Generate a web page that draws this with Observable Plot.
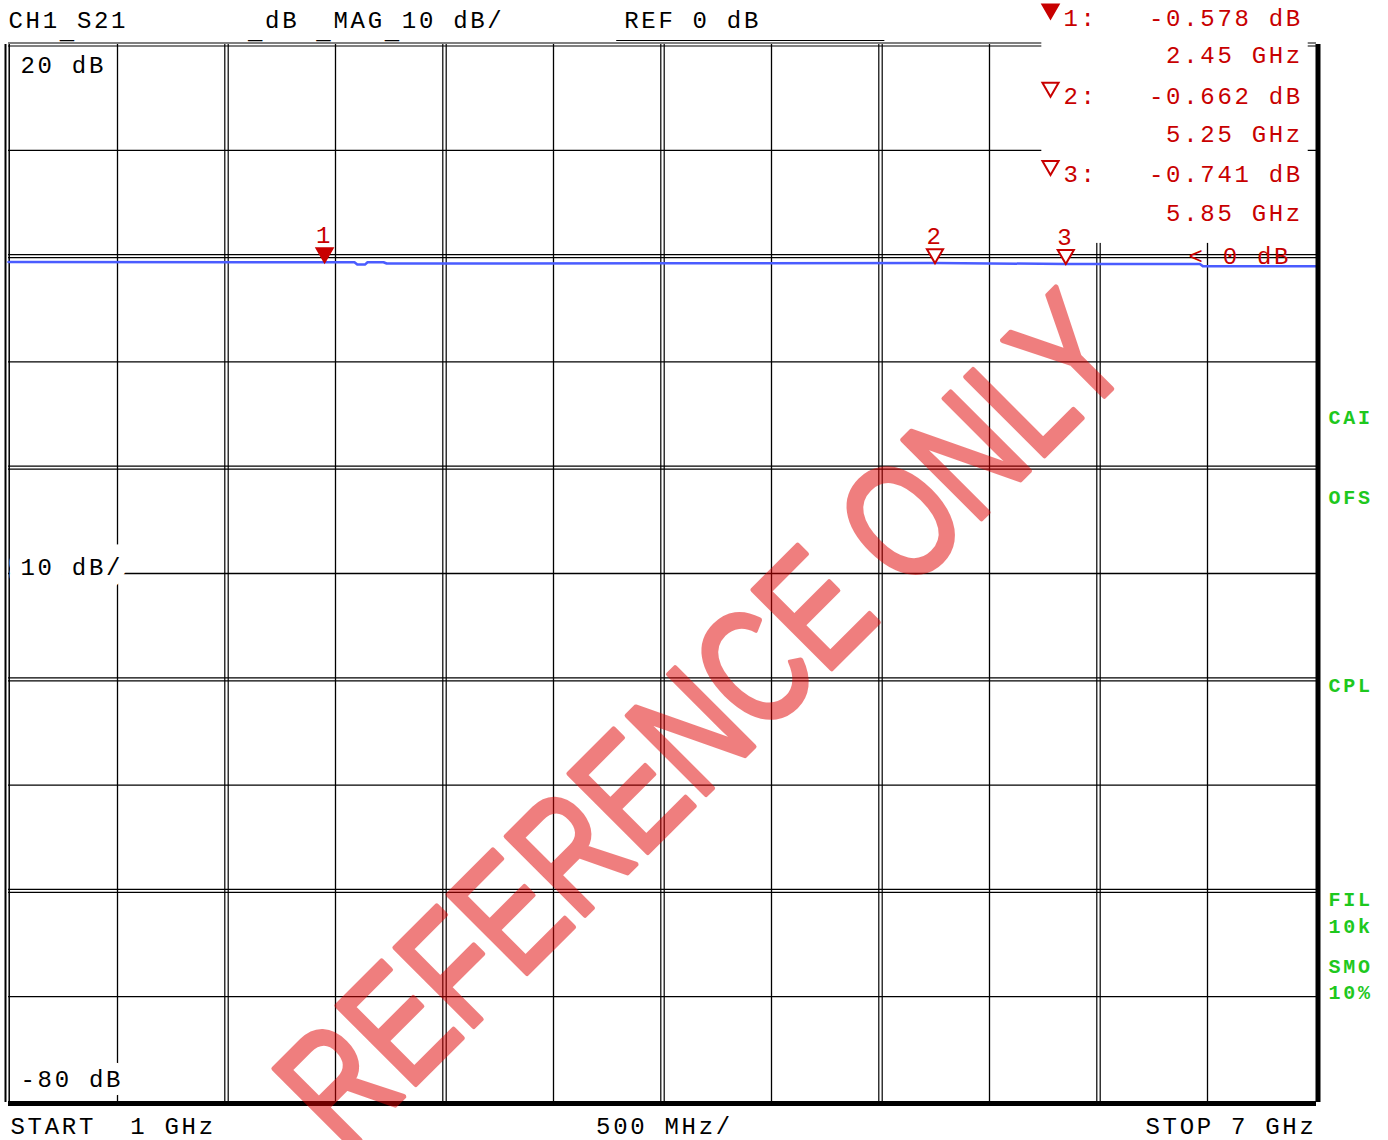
<!DOCTYPE html>
<html>
<head>
<meta charset="utf-8">
<script src="https://cdn.jsdelivr.net/npm/d3@7"></script>
<script src="https://cdn.jsdelivr.net/npm/@observablehq/plot@0.6"></script>
<style>
html, body { margin: 0; padding: 0; background: #fff; overflow: hidden; }
</style>
</head>
<body>
<div id="chart"></div>
<script>
// ---------------- data ----------------
const freqGHz = [1.00, 2.45, 2.587, 2.60, 2.635, 2.647, 2.72, 2.735, 4.00, 5.25, 5.85, 6.465, 6.48, 7.00];
const s21dB   = [-0.56, -0.578, -0.58, -0.80, -0.80, -0.58, -0.58, -0.70, -0.68, -0.662, -0.741, -0.75, -0.97, -0.97];

const markerIds     = [1, 2, 3];
const markerFreqGHz = [2.45, 5.25, 5.85];
const markerDb      = [-0.578, -0.662, -0.741];
const activeMarker  = 1;

const xGridGHz  = [1, 1.5, 2, 2.5, 3, 3.5, 4, 4.5, 5, 5.5, 6, 6.5, 7];
const yGridDb   = [20, 10, 0, -10, -20, -30, -40, -50, -60, -70, -80];
const xMajorGHz = [2, 3, 4, 5, 6];
const yMajorDb  = [20, 0, -20, -40, -60];

const startGHz = 1, stopGHz = 7, refLevelDb = 0, scaleDbPerDiv = 10;
const spanLabel = "500 MHz/";
const headerText = "CH1 S21        dB  MAG 10 dB/       REF 0 dB";
const headerUnderscores = "   _          _   _   _";
const statusLabels = ["CAI", "OFS", "CPL", "FIL", "10k", "SMO", "10%"];
const watermarkText = "REFERENCE ONLY";

// ---------------- layout (pixels / frame offsets) ----------------
const statusDy = [373, 453, 641, 855, 882, 922, 948];
const readoutBox = {x1: 5.74, x2: 6.962, y1: 1.2, y2: 24.5};
const refUnderline = {x1: 3.79, x2: 5.02};
const RED = "#c80000", GREEN = "#1ec81e", BLUE = "#4a5cff";

const trace = freqGHz.map((f, i) => ({f, db: s21dB[i]}));
const markers = markerIds.map((id, i) => ({id, f: markerFreqGHz[i], db: markerDb[i]}));

const triangleDown = {
  draw(context, size) {
    const y = -Math.sqrt(size / (Math.sqrt(3) * 3));
    context.moveTo(0, -y * 2);
    context.lineTo(-Math.sqrt(3) * y, y);
    context.lineTo(Math.sqrt(3) * y, y);
    context.closePath();
  }
};

const minorX = xGridGHz.filter(v => !xMajorGHz.includes(v) && v !== startGHz && v !== stopGHz);
const minorY = yGridDb.filter(v => !yMajorDb.includes(v) && v !== -80);

const T = (data, opts) => Plot.text(data, {lineAnchor: "middle", ...opts});

const readoutMarks = markers.flatMap((m, i) => [
  Plot.dot([m], {frameAnchor: "top-left", dx: 1042, dy: -35.3 + i * 78.2, r: 6, symbol: triangleDown,
    fill: m.id === activeMarker ? RED : "white", stroke: RED, strokeWidth: 2}),
  T([`${m.id}:   ${m.db.toFixed(3)} dB`], {frameAnchor: "top-left", textAnchor: "start",
    dx: 1055, dy: -26.5 + i * 78.2, fill: RED}),
  T([`      ${m.f.toFixed(2)} GHz`], {frameAnchor: "top-left", textAnchor: "start",
    dx: 1055, dy: 11 + i * 79, fill: RED})
]);

const chart = Plot.plot({
  width: 1388,
  height: 1140,
  marginLeft: 8,
  marginRight: 72,
  marginTop: 44,
  marginBottom: 38,
  x: {domain: [startGHz, stopGHz], axis: null},
  y: {domain: [-80, 20], axis: null},
  style: {fontFamily: "Liberation Mono, monospace", fontSize: "24px", letterSpacing: "2.7px", background: "white", color: "black"},
  marks: [
    // grid
    Plot.ruleX(minorX, {stroke: "black", strokeWidth: 1.3}),
    Plot.ruleX(xMajorGHz, {stroke: "black", strokeWidth: 1.2, dx: -1.7}),
    Plot.ruleX(xMajorGHz, {stroke: "black", strokeWidth: 1.2, dx: 1.7}),
    Plot.ruleY(minorY, {stroke: "black", strokeWidth: 1.3}),
    Plot.ruleY(yMajorDb, {stroke: "black", strokeWidth: 1.2, dy: -1.5}),
    Plot.ruleY(yMajorDb, {stroke: "black", strokeWidth: 1.2, dy: 1.5}),
    // borders
    Plot.ruleX([startGHz], {stroke: "black", strokeWidth: 2, dx: -3}),
    Plot.ruleX([startGHz], {stroke: "black", strokeWidth: 1.5, dx: 0.7}),
    Plot.ruleY([-80], {stroke: "black", strokeWidth: 5, dy: 1}),
    // trace
    Plot.line(trace, {x: "f", y: "db", stroke: BLUE, strokeWidth: 2.5}),
    // readout box
    Plot.rect([readoutBox], {x1: "x1", x2: "x2", y1: "y1", y2: "y2", fill: "white"}),
    Plot.ruleX([stopGHz], {stroke: "black", strokeWidth: 5, dx: 1.5}),
    Plot.ruleY([20], {x1: refUnderline.x1, x2: refUnderline.x2, stroke: "black", strokeWidth: 1.2, dy: -4}),
    ...readoutMarks,
    // markers on the trace
    Plot.dot(markers, {x: "f", y: "db", r: 6, symbol: triangleDown, dy: -9.3, stroke: RED, strokeWidth: 2,
      fill: d => d.id === activeMarker ? RED : "white"}),
    T(markers, {x: "f", y: "db", text: d => String(d.id), dy: -27, fill: RED}),
    // reference level indicator
    T([refLevelDb], {y: d => d, frameAnchor: "right", textAnchor: "start", dx: -128, fill: RED,
      text: d => `< ${d} dB`}),
    // scale labels
    T([`${yGridDb[0]} dB`], {frameAnchor: "top-left", textAnchor: "start", dx: 12, dy: 21,
      stroke: "white", strokeWidth: 8, fill: "black"}),
    T([`${scaleDbPerDiv} dB/`], {frameAnchor: "left", textAnchor: "start", dx: 12, dy: -6,
      stroke: "white", strokeWidth: 25, fill: "black"}),
    T([`${yGridDb[yGridDb.length - 1]} dB`], {frameAnchor: "bottom-left", textAnchor: "start", dx: 12, dy: -23,
      stroke: "white", strokeWidth: 17, fill: "black"}),
    // header
    T([headerText], {frameAnchor: "top-left", textAnchor: "start", dx: 0, dy: -24, fill: "black"}),
    T([headerUnderscores], {frameAnchor: "top-left", textAnchor: "start", dx: 0, dy: -13, fill: "black"}),
    // footer
    T([`START  ${startGHz} GHz`], {frameAnchor: "bottom-left", textAnchor: "start", dx: 2, dy: 24, fill: "black"}),
    T([spanLabel], {frameAnchor: "bottom", textAnchor: "middle", dx: 2, dy: 24, fill: "black"}),
    T([`STOP ${stopGHz} GHz`], {frameAnchor: "bottom-right", textAnchor: "end", dx: 0, dy: 24, fill: "black"}),
    // status annotations
    ...statusLabels.map((s, i) => T([s], {frameAnchor: "top-right", textAnchor: "start", dx: 12, dy: statusDy[i],
      fill: GREEN, fontWeight: "bold", fontSize: 20})),
    // watermark
    T([watermarkText], {frameAnchor: "middle", dx: 42, dy: 149, rotate: -45, fontSize: 162,
      fontFamily: "Liberation Sans, Arial, sans-serif", fill: "#e00000", stroke: "#e00000", strokeWidth: 5,
      opacity: 0.5})
  ]
});

d3.select(chart).selectAll("text")
  .filter(function() { return this.textContent === watermarkText; })
  .style("letter-spacing", "0px")
  .attr("transform", function() { return (this.getAttribute("transform") || "") + " scale(0.76,1)"; });

document.getElementById("chart").appendChild(chart);
</script>
</body>
</html>
